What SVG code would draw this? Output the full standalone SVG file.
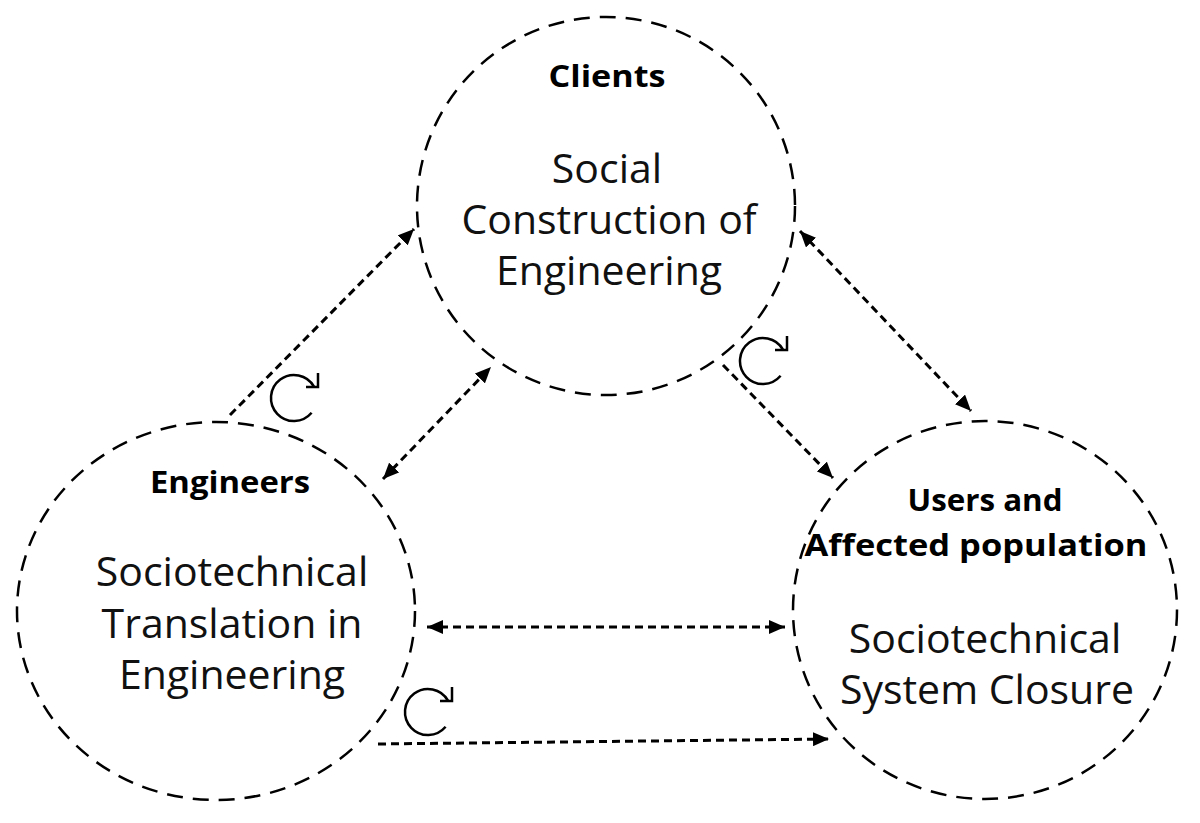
<svg xmlns="http://www.w3.org/2000/svg" xmlns:xlink="http://www.w3.org/1999/xlink" width="1200" height="823" viewBox="0 0 1200 823">
<style>
.node{fill:none;stroke:#000;stroke-width:2.5;stroke-dasharray:16 10}
.title{font-family:"Open Sans","Liberation Sans",sans-serif;font-weight:bold;font-size:31px;text-anchor:middle;fill:#000}
.body{font-family:"Open Sans","Liberation Sans",sans-serif;font-size:41px;text-anchor:middle;fill:#111}
.conn{fill:none;stroke:#000;stroke-width:3;stroke-dasharray:8 5}
.cyc{fill:none;stroke:#000;stroke-width:2.5}
</style>
<defs>
<marker id="ah" viewBox="0 0 16 14" refX="16" refY="7" markerWidth="16" markerHeight="14" markerUnits="userSpaceOnUse" orient="auto-start-reverse">
<path d="M0,0 L16,7 L0,14 Z" fill="#000"/>
</marker>
<g id="cycle">
<path class="cyc" d="M19.9,-11.5 A23 23 0 1 0 17.6,14.8"/>
<path class="cyc" d="M24,-25 L24,-11 L12,-11"/>
</g>
</defs>
<rect width="1200" height="823" fill="#fff"/>
<g id="clients">
<circle class="node" cx="606" cy="206" r="189"/>
<text class="title" x="607" y="87" textLength="117" lengthAdjust="spacingAndGlyphs">Clients</text>
<text class="body" x="607" y="183">Social</text>
<text class="body" x="609" y="234">Construction of</text>
<text class="body" x="609" y="285">Engineering</text>
</g>
<g id="engineers">
<ellipse class="node" cx="216" cy="611" rx="199" ry="189"/>
<text class="title" x="230" y="493" textLength="160" lengthAdjust="spacingAndGlyphs">Engineers</text>
<text class="body" x="232" y="586">Sociotechnical</text>
<text class="body" x="232" y="638">Translation in</text>
<text class="body" x="232" y="689">Engineering</text>
</g>
<g id="users">
<ellipse class="node" cx="985" cy="610" rx="192" ry="189"/>
<text class="title" x="985" y="511" textLength="155" lengthAdjust="spacingAndGlyphs">Users and</text>
<text class="title" x="976" y="556" textLength="343" lengthAdjust="spacingAndGlyphs">Affected population</text>
<text class="body" x="985" y="653">Sociotechnical</text>
<text class="body" x="987" y="704">System Closure</text>
</g>
<g id="connectors">
<line class="conn" x1="230" y1="415" x2="414" y2="229" marker-end="url(#ah)"/>
<line class="conn" x1="383" y1="479" x2="491" y2="367" marker-start="url(#ah)" marker-end="url(#ah)"/>
<line class="conn" x1="800" y1="231" x2="971" y2="411" marker-start="url(#ah)" marker-end="url(#ah)"/>
<line class="conn" x1="723" y1="365" x2="833" y2="478" marker-end="url(#ah)"/>
<line class="conn" x1="427" y1="627" x2="785" y2="627" marker-start="url(#ah)" marker-end="url(#ah)"/>
<line class="conn" x1="378" y1="744" x2="829" y2="739" marker-end="url(#ah)"/>
</g>
<g id="cycles">
<use xlink:href="#cycle" x="294" y="398"/>
<use xlink:href="#cycle" x="763" y="361"/>
<use xlink:href="#cycle" x="428" y="712"/>
</g>
</svg>
